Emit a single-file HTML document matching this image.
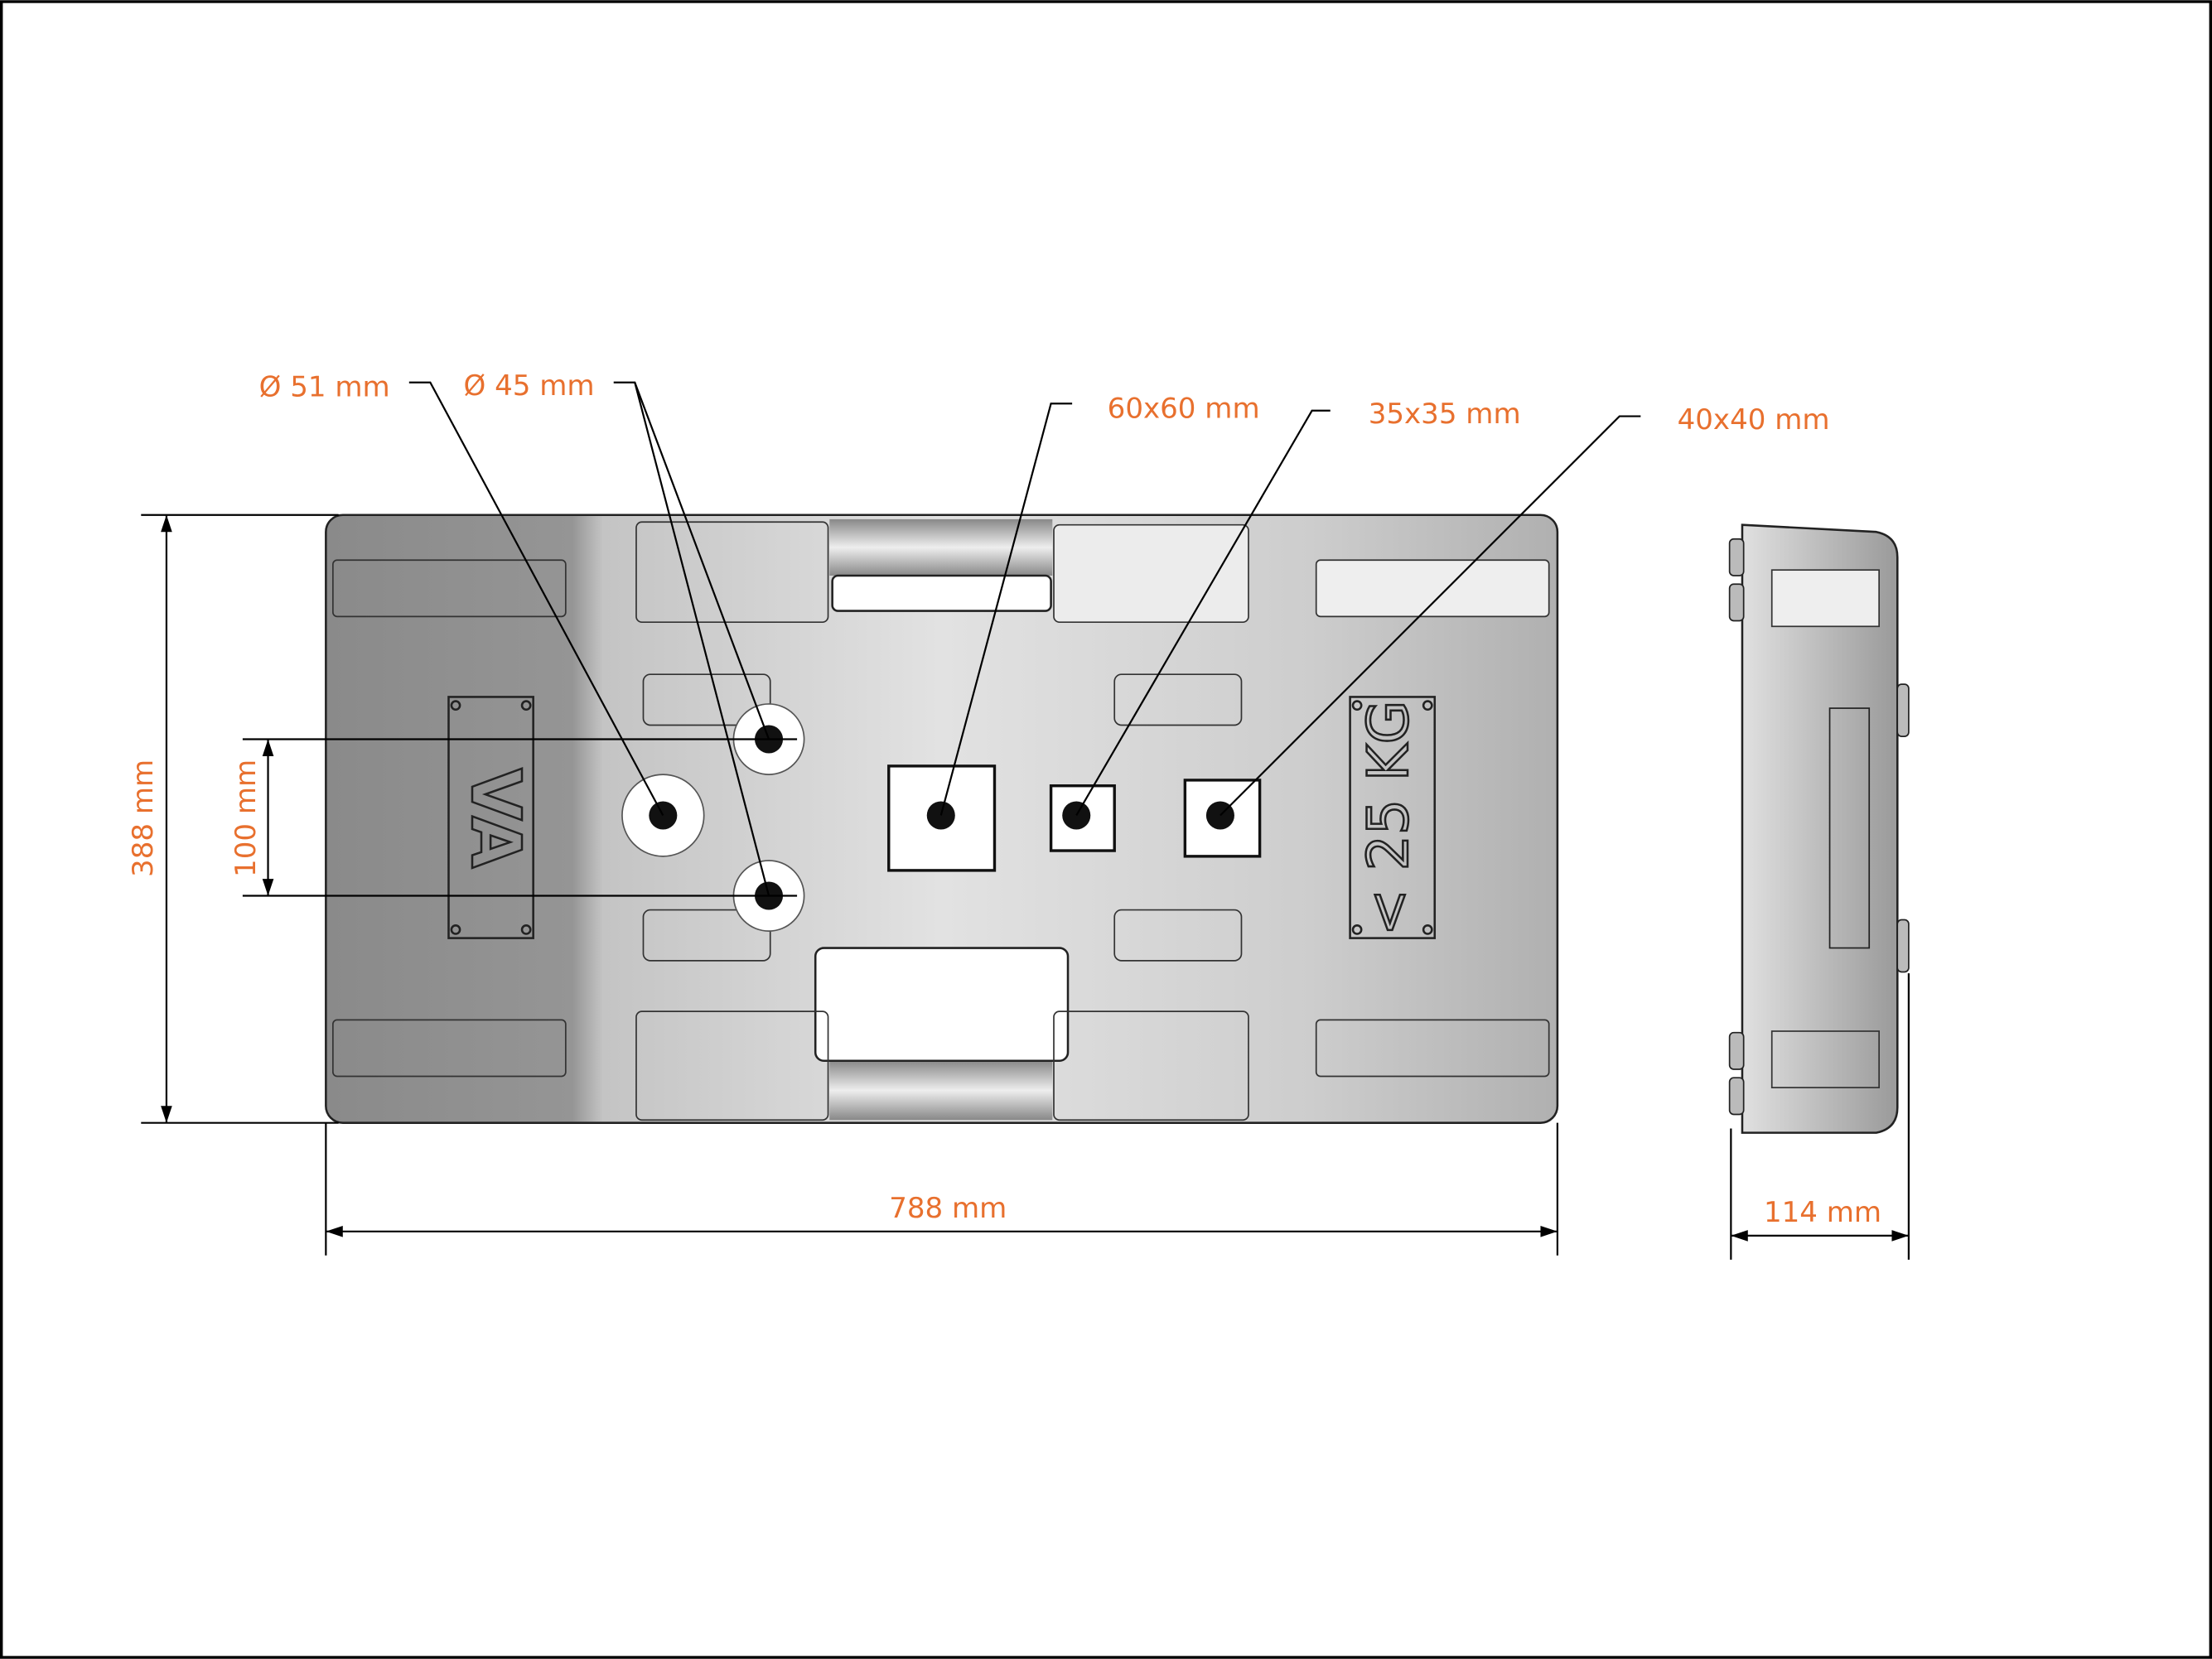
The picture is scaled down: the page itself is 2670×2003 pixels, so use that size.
<!DOCTYPE html>
<html><head><meta charset="utf-8"><style>
html,body{margin:0;padding:0;background:#fff}
svg{display:block}
text{font-family:"DejaVu Sans","Liberation Sans",sans-serif;fill:#e8702e;font-size:20px}
</style></head><body>
<svg width="2670" height="2003" viewBox="0 0 1568 1176" xmlns="http://www.w3.org/2000/svg">
<defs>
<linearGradient id="g" x1="0" x2="1" y1="0" y2="0">
<stop offset="0" stop-color="#8a8a8a"/><stop offset="0.2" stop-color="#959595"/>
<stop offset="0.225" stop-color="#c4c4c4"/><stop offset="0.5" stop-color="#e2e2e2"/>
<stop offset="0.8" stop-color="#cdcdcd"/><stop offset="1" stop-color="#b0b0b0"/>
</linearGradient>
<linearGradient id="s" x1="0" x2="1"><stop offset="0" stop-color="#e0e0e0"/><stop offset="0.5" stop-color="#bdbdbd"/><stop offset="1" stop-color="#9a9a9a"/></linearGradient>
<linearGradient id="h" x1="0" x2="0" y1="0" y2="1"><stop offset="0" stop-color="#888"/><stop offset="0.5" stop-color="#eee"/><stop offset="1" stop-color="#888"/></linearGradient>
</defs>
<rect x="1" y="1" width="1566" height="1174" fill="#fff" stroke="#000" stroke-width="2"/>
<rect x="231" y="365" width="873" height="431" rx="12" fill="url(#g)" stroke="#222" stroke-width="1.5"/>
<rect x="588" y="368" width="158" height="40" fill="url(#h)"/>
<rect x="588" y="752" width="158" height="42" fill="url(#h)"/>
<rect x="590" y="408" width="155" height="25" rx="4" fill="#fff" stroke="#222" stroke-width="1.5"/>
<rect x="578" y="672" width="179" height="80" rx="6" fill="#fff" stroke="#222" stroke-width="1.5"/>
<rect x="747" y="372" width="138" height="69" rx="4" fill="#ececec" stroke="#333"/>
<rect x="451" y="370" width="136" height="71" rx="4" fill="none" stroke="#333"/>
<rect x="451" y="717" width="136" height="77" rx="4" fill="none" stroke="#333"/>
<rect x="747" y="717" width="138" height="77" rx="4" fill="none" stroke="#333"/>
<rect x="236" y="397" width="165" height="40" rx="3" fill="none" stroke="#333"/>
<rect x="236" y="723" width="165" height="40" rx="3" fill="none" stroke="#333"/>
<rect x="933" y="397" width="165" height="40" rx="3" fill="#eee" stroke="#333"/>
<rect x="933" y="723" width="165" height="40" rx="3" fill="none" stroke="#333"/>
<rect x="456" y="478" width="90" height="36" rx="5" fill="none" stroke="#333"/>
<rect x="456" y="645" width="90" height="36" rx="5" fill="none" stroke="#333"/>
<rect x="790" y="478" width="90" height="36" rx="5" fill="none" stroke="#333"/>
<rect x="790" y="645" width="90" height="36" rx="5" fill="none" stroke="#333"/>
<rect x="318" y="494" width="60" height="171" fill="none" stroke="#222" stroke-width="1.5"/>
<text x="348" y="580" transform="rotate(90 348 580)" text-anchor="middle" dominant-baseline="middle" style="font-size:48px;fill:none;stroke:#222;stroke-width:1.5;font-weight:bold">VA</text>
<rect x="957" y="494" width="60" height="171" fill="none" stroke="#222" stroke-width="1.5"/>
<text x="987" y="580" transform="rotate(-90 987 580)" text-anchor="middle" dominant-baseline="middle" style="font-size:40px;fill:none;stroke:#222;stroke-width:1.5">&lt; 25 KG</text>
<g fill="none" stroke="#222" stroke-width="1.5"><circle cx="323" cy="500" r="3"/><circle cx="373" cy="500" r="3"/><circle cx="323" cy="659" r="3"/><circle cx="373" cy="659" r="3"/><circle cx="962" cy="500" r="3"/><circle cx="1012" cy="500" r="3"/><circle cx="962" cy="659" r="3"/><circle cx="1012" cy="659" r="3"/></g>
<circle cx="470" cy="578" r="29" fill="#fff" stroke="#555"/>
<circle cx="545" cy="524" r="25" fill="#fff" stroke="#555"/>
<circle cx="545" cy="635" r="25" fill="#fff" stroke="#555"/>
<rect x="630" y="543" width="75" height="74" fill="#fff" stroke="#111" stroke-width="2"/>
<rect x="745" y="557" width="45" height="46" fill="#fff" stroke="#111" stroke-width="2"/>
<rect x="840" y="553" width="53" height="54" fill="#fff" stroke="#111" stroke-width="2"/>
<g fill="#111"><circle cx="470" cy="578" r="10"/><circle cx="545" cy="524" r="10"/><circle cx="545" cy="635" r="10"/><circle cx="667" cy="578" r="10"/><circle cx="763" cy="578" r="10"/><circle cx="865" cy="578" r="10"/></g>
<path d="M1235 372 L1330 377 Q1345 380 1345 395 L1345 785 Q1345 800 1330 803 L1235 803 Z" fill="url(#s)" stroke="#222" stroke-width="1.5"/>
<rect x="1226" y="382" width="10" height="26" rx="3" fill="#bbb" stroke="#222"/>
<rect x="1226" y="414" width="10" height="26" rx="3" fill="#bbb" stroke="#222"/>
<rect x="1226" y="732" width="10" height="26" rx="3" fill="#bbb" stroke="#222"/>
<rect x="1226" y="764" width="10" height="26" rx="3" fill="#bbb" stroke="#222"/>
<rect x="1345" y="485" width="8" height="37" rx="3" fill="#bbb" stroke="#222"/>
<rect x="1345" y="652" width="8" height="37" rx="3" fill="#bbb" stroke="#222"/>
<rect x="1256" y="404" width="76" height="40" fill="#eee" stroke="#333"/>
<rect x="1256" y="731" width="76" height="40" fill="none" stroke="#333"/>
<rect x="1297" y="502" width="28" height="170" fill="none" stroke="#222"/>
<g stroke="#000" stroke-width="1.3" fill="none">
<line x1="100" y1="365" x2="240" y2="365"/><line x1="100" y1="796" x2="240" y2="796"/>
<line x1="118" y1="365" x2="118" y2="796"/>
<line x1="172" y1="524" x2="565" y2="524"/><line x1="172" y1="635" x2="565" y2="635"/>
<line x1="190" y1="524" x2="190" y2="635"/>
<line x1="231" y1="796" x2="231" y2="890"/><line x1="1104" y1="796" x2="1104" y2="890"/>
<line x1="231" y1="873" x2="1104" y2="873"/>
<line x1="1227" y1="800" x2="1227" y2="893"/><line x1="1353" y1="690" x2="1353" y2="893"/>
<line x1="1227" y1="876" x2="1353" y2="876"/>
<polyline points="290,271 305,271 470,578"/>
<polyline points="435,271 450,271 545,524"/><line x1="450" y1="271" x2="545" y2="635"/>
<polyline points="760,286 745,286 667,578"/>
<polyline points="943,291 930,291 763,578"/>
<polyline points="1163,295 1148,295 865,578"/>
</g>
<g fill="#000">
<path d="M118 365 l-4 12 h8z"/><path d="M118 796 l-4 -12 h8z"/>
<path d="M190 524 l-4 12 h8z"/><path d="M190 635 l-4 -12 h8z"/>
<path d="M231 873 l12 -4 v8z"/><path d="M1104 873 l-12 -4 v8z"/>
<path d="M1227 876 l12 -4 v8z"/><path d="M1353 876 l-12 -4 v8z"/>
</g>
<text x="108" y="580" transform="rotate(-90 108 580)" text-anchor="middle">388 mm</text>
<text x="181" y="580" transform="rotate(-90 181 580)" text-anchor="middle">100 mm</text>
<text x="672" y="863" text-anchor="middle">788 mm</text>
<text x="1292" y="866" text-anchor="middle">114 mm</text>
<text x="230" y="281" text-anchor="middle">Ø 51 mm</text>
<text x="375" y="280" text-anchor="middle">Ø 45 mm</text>
<text x="839" y="296" text-anchor="middle">60x60 mm</text>
<text x="1024" y="300" text-anchor="middle">35x35 mm</text>
<text x="1243" y="304" text-anchor="middle">40x40 mm</text>
</svg>
</body></html>
